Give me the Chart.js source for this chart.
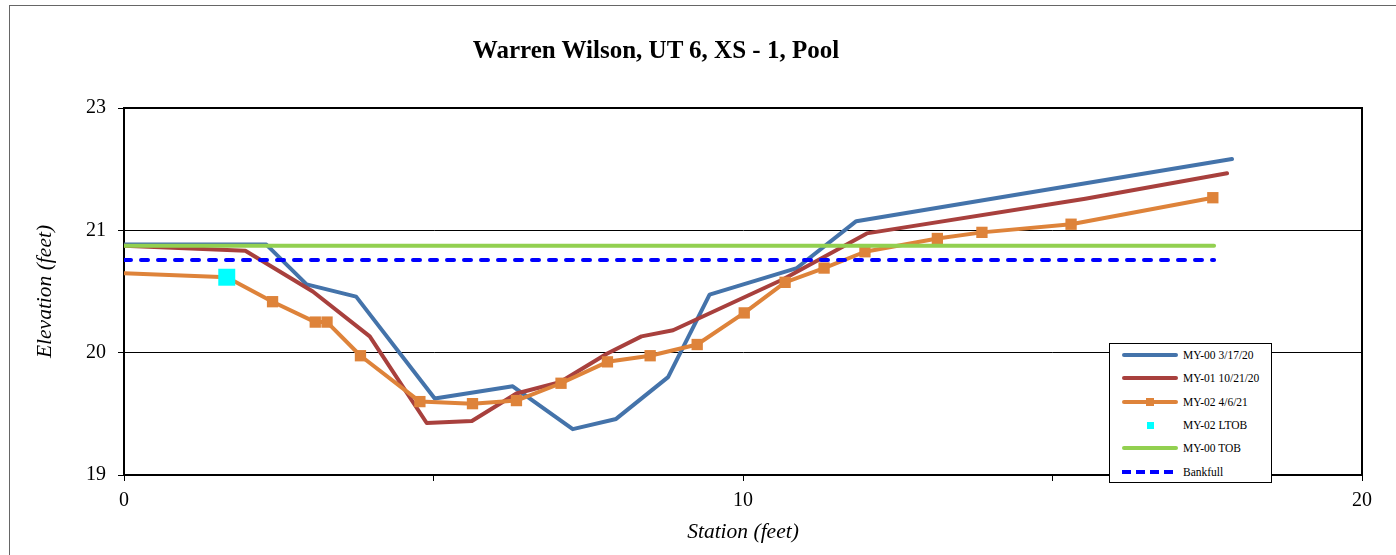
<!DOCTYPE html>
<html>
<head>
<meta charset="utf-8">
<title>Warren Wilson, UT 6, XS - 1, Pool</title>
<script src="https://cdn.jsdelivr.net/npm/chart.js@4/dist/chart.umd.min.js"></script>
<style>
    html, body { margin: 0; padding: 0; background: #fff; }
    body { width: 1396px; height: 555px; overflow: hidden; position: relative; font-family: "Liberation Serif", "Times New Roman", serif; }
    #frame { position: absolute; left: 9px; top: 5px; width: 1400px; height: 560px; border: 1px solid #666; box-sizing: border-box; }
    #wrap { position: absolute; left: 0; top: 0; width: 1396px; height: 555px; }
    #title { position: absolute; left: 0; top: 36px; width: 1312px; text-align: center; font-weight: bold; font-size: 25px; line-height: 28px; color: #000; }
    #legend { position: absolute; left: 1109px; top: 343px; width: 163px; height: 140px; box-sizing: border-box; border: 1px solid #000; background: #fff; }
    .row { position: absolute; left: 0; height: 14px; width: 100%; }
    .sw { position: absolute; left: 12px; top: 0; width: 56px; height: 14px; }
    .sw .ln { position: absolute; left: 0; top: 5px; width: 56px; height: 4px; border-radius: 2px; }
    .sw .mk { position: absolute; }
    .row .tx { position: absolute; left: 73px; top: 0; font-size: 11.5px; line-height: 14px; color: #000; white-space: nowrap; }
</style>
</head>
<body>
<div id="frame"></div>
<div id="wrap"><canvas id="chart" width="1396" height="555"></canvas></div>
<div id="title">Warren Wilson, UT 6, XS - 1, Pool</div>
<div id="legend"></div>
<script>
// ---- data (station ft, elevation ft) ----
const STATION_MY00 = [0, 2.30, 2.95, 3.75, 5.02, 6.28, 7.25, 7.95, 8.79, 9.46, 10.87, 11.83, 17.90];
const ELEV_MY00    = [21.26, 21.26, 20.87, 20.75, 19.75, 19.87, 19.45, 19.55, 19.96, 20.77, 21.03, 21.49, 22.10];

const STATION_MY01 = [0, 1.96, 3.05, 3.97, 4.89, 5.62, 6.34, 7.04, 7.80, 8.36, 8.87, 10.65, 12.00, 15.53, 17.82];
const ELEV_MY01    = [21.25, 21.20, 20.80, 20.36, 19.51, 19.53, 19.80, 19.91, 20.19, 20.36, 20.42, 20.92, 21.37, 21.71, 21.96];

const STATION_MY02 = [0, 1.66, 2.40, 3.09, 3.28, 3.82, 4.78, 5.63, 6.34, 7.06, 7.81, 8.50, 9.26, 10.02, 10.68, 11.31, 11.97, 13.14, 13.86, 15.30, 17.59];
const ELEV_MY02    = [20.98, 20.94, 20.70, 20.50, 20.50, 20.17, 19.72, 19.70, 19.73, 19.90, 20.11, 20.17, 20.28, 20.59, 20.89, 21.03, 21.19, 21.32, 21.38, 21.46, 21.72];

const STATION_LTOB = [1.66];
const ELEV_LTOB    = [20.94];

const STATION_TOB  = [0, 17.61];
const ELEV_TOB     = [21.25, 21.25];

const STATION_BKF  = [0, 17.61];
const ELEV_BKF     = [21.11, 21.11];

// Excel-style axis: 19 .. 22.6 by 1.2, labels shown with no decimals
const Y_TICK_VALUES = [19, 20.2, 21.4, 22.6];
const Y_TICK_LABELS = ['19', '20', '21', '23'];
const X_MIN = 0, X_MAX = 20, X_STEP = 5;

const SERIF = '"Liberation Serif", "Times New Roman", serif';

function pairs(xs, ys) {
    return xs.map((x, i) => ({ x, y: ys[i] }));
}

// first survey point of MY-02 carries no marker in the original
const my02Radius = STATION_MY02.map((_, i) => (i === 0 ? 0 : 8));

const datasets = [
    {
        label: 'MY-00 3/17/20', data: pairs(STATION_MY00, ELEV_MY00),
        borderColor: '#4473AA', borderWidth: 4, pointRadius: 0, order: 6
    },
    {
        label: 'MY-01 10/21/20', data: pairs(STATION_MY01, ELEV_MY01),
        borderColor: '#A8403D', borderWidth: 4, pointRadius: 0, order: 5
    },
    {
        label: 'MY-02 4/6/21', data: pairs(STATION_MY02, ELEV_MY02),
        borderColor: '#DE833A', backgroundColor: '#DE833A', borderWidth: 4,
        pointStyle: 'rect', pointRadius: my02Radius, pointBorderWidth: 0, order: 4
    },
    {
        label: 'MY-02 LTOB', data: pairs(STATION_LTOB, ELEV_LTOB),
        borderColor: '#00FFFF', backgroundColor: '#00FFFF', showLine: false,
        pointStyle: 'rect', pointRadius: 12, pointBorderWidth: 0, order: 3
    },
    {
        label: 'MY-00 TOB', data: pairs(STATION_TOB, ELEV_TOB),
        borderColor: '#92D050', borderWidth: 4, pointRadius: 0, order: 2
    },
    {
        label: 'Bankfull', data: pairs(STATION_BKF, ELEV_BKF),
        borderColor: '#0000FF', borderWidth: 4, borderDash: [7, 10], pointRadius: 0, order: 1
    }
];

const plotFrame = {
    id: 'plotFrame',
    beforeDatasetsDraw(chart) {
        const { ctx, chartArea: a } = chart;
        ctx.save();
        ctx.strokeStyle = '#000';
        ctx.lineWidth = 2;
        ctx.strokeRect(a.left, a.top, a.right - a.left, a.bottom - a.top);
        ctx.restore();
    }
};

const chart = new Chart(document.getElementById('chart'), {
    type: 'line',
    data: { datasets },
    plugins: [plotFrame],
    options: {
        responsive: false,
        animation: false,
        devicePixelRatio: 1,
        layout: { padding: { left: 0, top: 108, right: 34, bottom: 0 } },
        elements: {
            line: { tension: 0, borderJoinStyle: 'round', borderCapStyle: 'round', fill: false }
        },
        plugins: {
            legend: { display: false },
            title: { display: false },
            tooltip: { enabled: false }
        },
        scales: {
            x: {
                type: 'linear',
                min: X_MIN,
                max: X_MAX,
                afterFit(scale) { scale.height = 80; },
                ticks: {
                    stepSize: X_STEP,
                    color: '#000',
                    padding: 8,
                    font: { family: SERIF, size: 20 },
                    maxRotation: 0,
                    callback: v => (v % 10 === 0 ? String(v) : '')
                },
                grid: { drawOnChartArea: false, tickLength: 6, tickColor: '#000' },
                border: { color: '#000', width: 2 },
                title: {
                    display: true,
                    text: 'Station (feet)',
                    color: '#000',
                    font: { family: SERIF, size: 21.5, style: 'italic' },
                    padding: { top: 0, bottom: 10 }
                }
            },
            y: {
                type: 'linear',
                min: Y_TICK_VALUES[0],
                max: Y_TICK_VALUES[Y_TICK_VALUES.length - 1],
                afterFit(scale) { scale.width = 124; },
                afterBuildTicks(scale) { scale.ticks = Y_TICK_VALUES.map(value => ({ value })); },
                ticks: {
                    color: '#000',
                    padding: 12,
                    font: { family: SERIF, size: 20 },
                    callback: (v, i) => Y_TICK_LABELS[i]
                },
                grid: { color: '#000', lineWidth: 1, tickLength: 6, tickColor: '#000' },
                border: { color: '#000', width: 2 },
                title: {
                    display: true,
                    text: 'Elevation (feet)',
                    color: '#000',
                    font: { family: SERIF, size: 21.5, style: 'italic' },
                    padding: { top: 32, bottom: 0 }
                }
            }
        }
    }
});

// legend box, built from the datasets (floats over the plot like the Excel one)
(function buildLegend() {
    const box = document.getElementById('legend');
    const rowTop = [4, 27, 51, 74, 97, 121];
    chart.data.datasets.forEach((ds, i) => {
        const row = document.createElement('div');
        row.className = 'row';
        row.style.top = rowTop[i] + 'px';
        const sw = document.createElement('div');
        sw.className = 'sw';
        if (ds.showLine !== false) {
            const ln = document.createElement('div');
            ln.className = 'ln';
            if (ds.borderDash) {
                ln.style.background = 'repeating-linear-gradient(90deg, ' + ds.borderColor +
                    ' 0 9px, transparent 9px 14px)';
                ln.style.borderRadius = '0';
            } else {
                ln.style.background = ds.borderColor;
            }
            sw.appendChild(ln);
        }
        const hasMarker = ds.pointStyle === 'rect';
        if (hasMarker) {
            const s = ds.showLine === false ? 7 : 8;
            const mk = document.createElement('div');
            mk.className = 'mk';
            mk.style.width = s + 'px';
            mk.style.height = s + 'px';
            mk.style.left = (28 - s / 2) + 'px';
            mk.style.top = (7 - s / 2) + 'px';
            mk.style.background = ds.backgroundColor;
            sw.appendChild(mk);
        }
        const tx = document.createElement('div');
        tx.className = 'tx';
        tx.textContent = ds.label;
        row.appendChild(sw);
        row.appendChild(tx);
        box.appendChild(row);
    });
})();
</script>
</body>
</html>
